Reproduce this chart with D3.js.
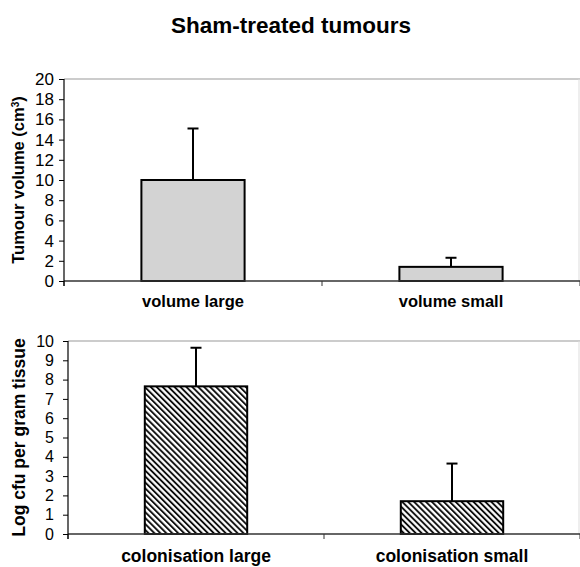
<!DOCTYPE html>
<html>
<head>
<meta charset="utf-8">
<script src="https://cdn.jsdelivr.net/npm/d3@7/dist/d3.min.js"></script>
<style>
  body { margin: 0; background: #fff; }
  text { font-family: "Liberation Sans", Arial, sans-serif; fill: #000; }
</style>
</head>
<body>
<script>
// Sham-treated tumours: volume and colonisation (mean + upper error bar)

// Data
let volumeCategories = ["volume large", "volume small"];
let volumeMeans = [10.0, 1.4];
let volumeErrors = [5.1, 0.9];
let volumeTicks = [0, 2, 4, 6, 8, 10, 12, 14, 16, 18, 20];

let colonCategories = ["colonisation large", "colonisation small"];
let colonMeans = [7.65, 1.7];
let colonErrors = [2.0, 1.95];
let colonTicks = [0, 1, 2, 3, 4, 5, 6, 7, 8, 9, 10];

let svgWidth = 580;
let svgHeight = 567;

let svg = d3.select("body")
            .append("svg")
            .attr("width", svgWidth)
            .attr("height", svgHeight);

// Hatch pattern for the colonisation bars
let defs = svg.append("defs");
defs.append("pattern")
    .attr("id", "hatch")
    .attr("patternUnits", "userSpaceOnUse")
    .attr("width", 4.2)
    .attr("height", 4.2)
    .attr("patternTransform", "rotate(-45)")
    .call(p => {
        p.append("rect").attr("width", 4.2).attr("height", 4.2).attr("fill", "#fff");
        p.append("line")
         .attr("x1", 1).attr("y1", 0).attr("x2", 1).attr("y2", 4.2)
         .attr("stroke", "#000").attr("stroke-width", 1.8);
    });

// Title
svg.append("text")
   .attr("x", 291)
   .attr("y", 33)
   .attr("text-anchor", "middle")
   .attr("font-size", "22.5px")
   .attr("font-weight", "bold")
   .text("Sham-treated tumours");

function drawPanel(opts) {
    let x = d3.scaleBand()
              .domain(opts.categories)
              .range([opts.left, opts.right])
              .paddingInner(0.6)
              .paddingOuter(0.3);

    let y = d3.scaleLinear()
              .domain([0, d3.max(opts.ticks)])
              .range([opts.bottom, opts.top]);

    let g = svg.append("g");

    // plot area border (top / right, light grey)
    g.append("line")
     .attr("x1", opts.left).attr("x2", opts.right)
     .attr("y1", opts.top).attr("y2", opts.top)
     .attr("stroke", "#999").attr("stroke-width", 1.2);
    g.append("line")
     .attr("x1", opts.right - 1).attr("x2", opts.right - 1)
     .attr("y1", opts.top).attr("y2", opts.bottom)
     .attr("stroke", "#ddd").attr("stroke-width", 1);

    // bars
    g.selectAll(".bar")
     .data(opts.categories)
     .enter()
     .append("rect")
     .attr("x", d => x(d))
     .attr("y", (d, i) => y(opts.means[i]))
     .attr("width", x.bandwidth())
     .attr("height", (d, i) => y(0) - y(opts.means[i]))
     .attr("fill", opts.fill)
     .attr("stroke", "#000")
     .attr("stroke-width", 2);

    // error bars (upper only)
    opts.categories.forEach((d, i) => {
        let cx = x(d) + x.bandwidth() / 2;
        let top = y(opts.means[i] + opts.errors[i]);
        g.append("line")
         .attr("x1", cx).attr("x2", cx)
         .attr("y1", y(opts.means[i])).attr("y2", top)
         .attr("stroke", "#000").attr("stroke-width", 2);
        g.append("line")
         .attr("x1", cx - 5.5).attr("x2", cx + 5.5)
         .attr("y1", top).attr("y2", top)
         .attr("stroke", "#000").attr("stroke-width", 2);
    });

    // x axis line + category divider ticks
    g.append("line")
     .attr("x1", opts.left).attr("x2", opts.right)
     .attr("y1", opts.bottom).attr("y2", opts.bottom)
     .attr("stroke", "#333").attr("stroke-width", 1.5);
    let gap = (x.step() - x.bandwidth()) / 2;
    let dividers = opts.categories.map(d => x(d) - gap).concat([opts.right]);
    g.selectAll(".xtick")
     .data(dividers)
     .enter()
     .append("line")
     .attr("x1", d => d).attr("x2", d => d)
     .attr("y1", opts.bottom).attr("y2", opts.bottom + 5)
     .attr("stroke", "#333").attr("stroke-width", 1);

    // category labels
    g.selectAll(".cat")
     .data(opts.categories)
     .enter()
     .append("text")
     .attr("x", d => x(d) + x.bandwidth() / 2)
     .attr("y", opts.labelY)
     .attr("text-anchor", "middle")
     .attr("font-size", opts.catSize)
     .attr("font-weight", "bold")
     .text(d => d);

    // y axis
    let leftAxis = d3.axisLeft(y)
                     .tickValues(opts.ticks)
                     .tickSize(5)
                     .tickSizeOuter(0)
                     .tickPadding(opts.tickPad);
    let ax = g.append("g")
              .attr("transform", `translate(${opts.left}, 0)`)
              .call(leftAxis);
    ax.select(".domain").remove();
    ax.append("line")
      .attr("x1", 0).attr("x2", 0)
      .attr("y1", opts.top).attr("y2", opts.bottom + 5)
      .attr("stroke", "#000").attr("stroke-width", 1.2);
    ax.selectAll(".tick line").attr("stroke", "#000");
    ax.selectAll(".tick text")
      .attr("font-size", opts.tickSize)
      .attr("font-family", "Liberation Sans, Arial, sans-serif")
      .attr("fill", "#000");

    // y axis title
    g.append("text")
     .attr("transform", `translate(${opts.titleX}, ${(opts.top + opts.bottom) / 2}) rotate(-90)`)
     .attr("text-anchor", "middle")
     .attr("font-size", opts.titleSize)
     .attr("font-weight", "bold")
     .call(t => {
         t.append("tspan").text(opts.title);
         if (opts.sup) {
             t.append("tspan").attr("baseline-shift", "super").attr("font-size", "10px").text(opts.sup);
             t.append("tspan").text(")");
         }
     });
}

drawPanel({
    categories: volumeCategories,
    means: volumeMeans,
    errors: volumeErrors,
    ticks: volumeTicks,
    left: 64, right: 580, top: 79, bottom: 281,
    fill: "#d3d3d3",
    labelY: 307, catSize: "16.5px",
    tickSize: "17px", tickPad: 5,
    titleX: 24, titleSize: "16.5px",
    title: "Tumour volume (cm", sup: "3"
});

drawPanel({
    categories: colonCategories,
    means: colonMeans,
    errors: colonErrors,
    ticks: colonTicks,
    left: 68, right: 580, top: 341, bottom: 534,
    fill: "url(#hatch)",
    labelY: 562, catSize: "17.5px",
    tickSize: "16px", tickPad: 9,
    titleX: 25, titleSize: "17.5px",
    title: "Log cfu per gram tissue"
});
</script>
</body>
</html>
